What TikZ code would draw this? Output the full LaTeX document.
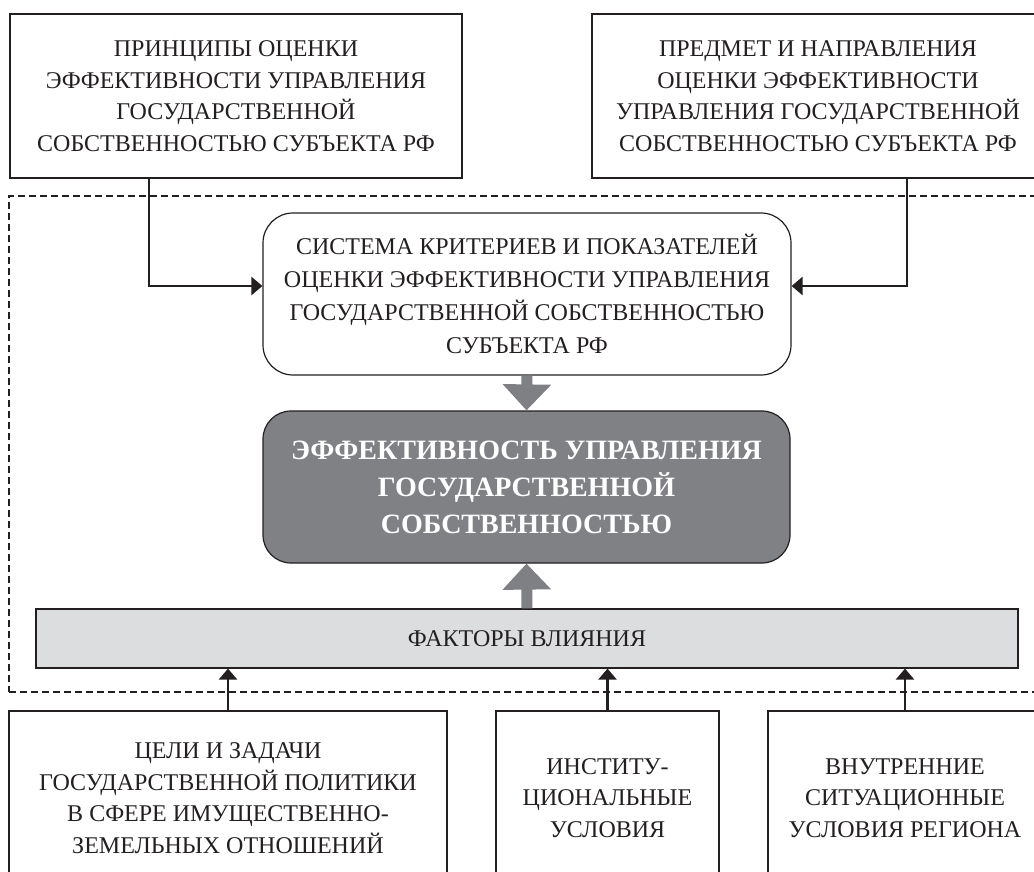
\documentclass[tikz,border=0pt]{standalone}
\usepackage{fontspec}
\setmainfont{Liberation Serif}
\usetikzlibrary{arrows.meta}
\definecolor{darkbox}{HTML}{808185}
\definecolor{lightbox}{HTML}{DCDDDF}
\definecolor{greyarrow}{HTML}{7F8084}
\definecolor{ink}{HTML}{231F20}
\begin{document}
\begin{tikzpicture}[x=1pt,y=-1pt,
  box/.style={draw=ink, line width=1.2pt, align=center, inner sep=0pt, text=ink,
    font=\fontsize{24}{31.5}\selectfont},
  roundbox/.style={box, rounded corners=30pt, font=\fontsize{24}{33}\selectfont},
  mainbox/.style={box, rounded corners=28pt, fill=darkbox, text=white,
    font=\fontsize{28}{37}\selectfont\bfseries},
  factbox/.style={box, fill=lightbox},
  frame/.style={draw=ink, line width=1.2pt, dash pattern=on 7pt off 4pt, inner sep=0pt},
  blackarrow/.style={draw=ink, line width=2.5pt, -{Triangle[length=11pt,width=18pt]}},
  greyarr/.style={draw=greyarrow, line width=11pt, -{Triangle[length=26pt,width=47pt]}}
]
\clip (0,0) rectangle (1034,872);
\fill[white] (0,0) rectangle (1034,872);

\node[frame, minimum width=1036pt, minimum height=496pt] (frm) at (527,444) {};

\node[box, minimum width=452pt, minimum height=164pt] (tl) at (236,96)
  {ПРИНЦИПЫ ОЦЕНКИ\\ЭФФЕКТИВНОСТИ УПРАВЛЕНИЯ\\ГОСУДАРСТВЕННОЙ\\СОБСТВЕННОСТЬЮ СУБЪЕКТА РФ};
\node[box, minimum width=452pt, minimum height=164pt] (tr) at (818,96)
  {ПРЕДМЕТ И НАПРАВЛЕНИЯ\\ОЦЕНКИ ЭФФЕКТИВНОСТИ\\УПРАВЛЕНИЯ ГОСУДАРСТВЕННОЙ\\СОБСТВЕННОСТЬЮ СУБЪЕКТА РФ};

\node[roundbox, fill=white, minimum width=528pt, minimum height=162pt] (sys) at (527,294)
  {СИСТЕМА КРИТЕРИЕВ И ПОКАЗАТЕЛЕЙ\\ОЦЕНКИ ЭФФЕКТИВНОСТИ УПРАВЛЕНИЯ\\ГОСУДАРСТВЕННОЙ СОБСТВЕННОСТЬЮ\\СУБЪЕКТА РФ};

\node[mainbox, minimum width=527pt, minimum height=152pt] (main) at (526.5,487)
  {ЭФФЕКТИВНОСТЬ УПРАВЛЕНИЯ\\ГОСУДАРСТВЕННОЙ\\СОБСТВЕННОСТЬЮ};

\node[factbox, minimum width=982pt, minimum height=59pt] (fac) at (527,638.5)
  {ФАКТОРЫ ВЛИЯНИЯ};

\node[box, minimum width=438pt, minimum height=174pt] (bl) at (228,798)
  {ЦЕЛИ И ЗАДАЧИ\\ГОСУДАРСТВЕННОЙ ПОЛИТИКИ\\В СФЕРЕ ИМУЩЕСТВЕННО-\\ЗЕМЕЛЬНЫХ ОТНОШЕНИЙ};
\node[box, minimum width=223pt, minimum height=174pt] (bm) at (607.5,798)
  {ИНСТИТУ-\\ЦИОНАЛЬНЫЕ\\УСЛОВИЯ};
\node[box, minimum width=274pt, minimum height=174pt] (br) at (905,798)
  {ВНУТРЕННИЕ\\СИТУАЦИОННЫЕ\\УСЛОВИЯ РЕГИОНА};

\draw[blackarrow] ([xshift=-87pt]tl.south) |- ([yshift=8pt]sys.west);
\draw[blackarrow] ([xshift=89pt]tr.south) |- ([yshift=8pt]sys.east);

\draw[greyarr] (sys.south) -- (main.north);
\draw[greyarr] (fac.north) -- (main.south);

\draw[blackarrow] (bl.north) -- (bl.north |- fac.south);
\draw[blackarrow] (bm.north) -- (bm.north |- fac.south);
\draw[blackarrow] (br.north) -- (br.north |- fac.south);
\end{tikzpicture}
\end{document}
